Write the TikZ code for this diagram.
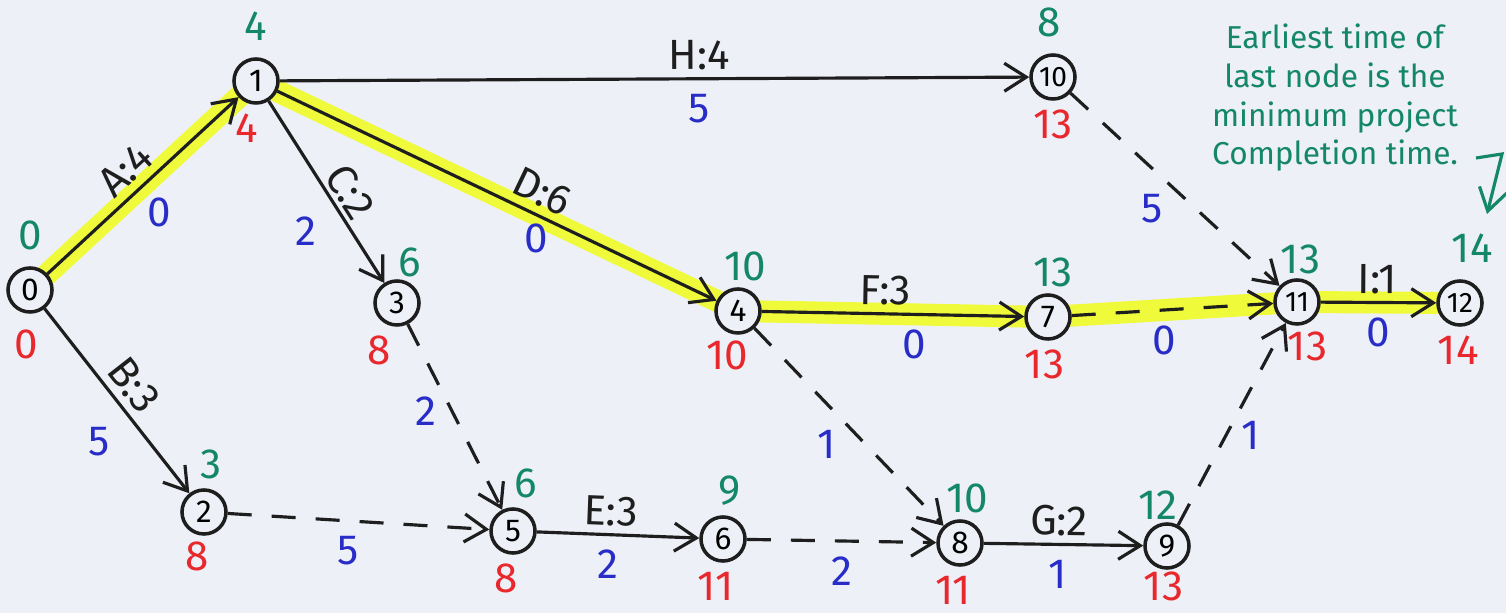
\documentclass[tikz,border=0pt]{standalone}
\usepackage{fontspec}
\setmainfont{Fira Sans}
\usetikzlibrary{arrows.meta,backgrounds}
\definecolor{paper}{RGB}{238,240,248}
\definecolor{ink}{RGB}{30,30,30}
\definecolor{marker}{RGB}{238,250,58}
\definecolor{earlygreen}{RGB}{20,135,105}
\definecolor{latered}{RGB}{232,40,45}
\definecolor{slackblue}{RGB}{40,45,200}
\tikzset{
    aoa diagram/.style = {x=0.01cm, y=-0.01cm,
                          >={Straight Barb[length=2.2mm, width=2.8mm]}},
    event/.style       = {draw=ink, line width=1pt, circle, fill=paper,
                          minimum size=4.4mm, inner sep=0pt,
                          font=\small},
    wide event/.style  = {event, font=\footnotesize},
    early/.style       = {text=earlygreen, font=\large, inner sep=2.5pt},
    late/.style        = {text=latered, font=\large, inner sep=2.5pt},
    activity/.style    = {draw=ink, line width=0.9pt, ->},
    dummy/.style       = {activity, dash pattern=on 2.4mm off 2mm},
    act/.style         = {text=ink, font=\large, sloped, inner sep=2pt},
    slack/.style       = {text=slackblue, font=\large, inner sep=2pt},
    critical/.style    = {draw=marker, line width=2.2mm,
                          line cap=round, line join=round},
    note/.style        = {text=earlygreen, font=\small, align=center},
    note arrow/.style  = {draw=earlygreen, line width=0.9pt, ->}
}
\begin{document}
\begin{tikzpicture}[aoa diagram]
\useasboundingbox (0,0) rectangle (1506,613);

% ================= Events (earliest above, latest below) =================
\node[event, label={[early, yshift=2pt]above:0},
             label={[late, xshift=-1pt, yshift=-2pt]below:0}]     (ev0)  at (30, 290)   {0};
\node[event, label={[early, yshift=2pt]above:4},
             label={[late, xshift=-2.5pt]below:4}]                (ev1)  at (256, 81)   {1};
\node[event, label={[early, xshift=2pt]above:3},
             label={[late, xshift=-2pt, yshift=1pt]below:8}]      (ev2)  at (204, 512)  {2};
\node[event, label={[early, xshift=3.5pt, yshift=-2pt]above:6},
             label={[late, xshift=-5pt]below:8}]                  (ev3)  at (397, 303)  {3};
\node[event, label={[early, xshift=2pt, yshift=-1pt]above:10},
             label={[late, xshift=-3pt, yshift=1pt]below:10}]     (ev4)  at (738, 311)  {4};
\node[event, label={[early, xshift=3.5pt]above:6},
             label={[late, xshift=-2pt]below:8}]                  (ev5)  at (513, 531)  {5};
\node[event, label={[early, xshift=2pt]above:9},
             label={[late, xshift=-2pt]below:11}]                 (ev6)  at (723, 539)  {6};
\node[event, label={[early, xshift=1.5pt, yshift=-1pt]above:13},
             label={[late, xshift=-1pt]below:13}]                 (ev7)  at (1048, 317) {7};
\node[event, label={[early, xshift=2pt, yshift=-1pt]above:10},
             label={[late, xshift=-2pt]below:11}]                 (ev8)  at (960, 543)  {8};
\node[event, label={[early, xshift=-2.5pt, yshift=-2pt]above:12},
             label={[late, xshift=-1pt, yshift=2pt]below:13}]     (ev9)  at (1167, 546) {9};
\node[wide event, label={[early, xshift=-1pt, yshift=2pt]above:8},
             label={[late]below:13}]                              (ev10) at (1053, 77)  {10};
\node[wide event, label={[early, xshift=1pt, yshift=-1.5pt]above:13},
             label={[late, xshift=3pt, yshift=1pt]below:13}]      (ev11) at (1297, 302) {11};
\node[wide event, label={[early, xshift=3.5pt, yshift=2pt]above:14},
             label={[late, xshift=-0.5pt]below:14}]               (ev12) at (1460, 303) {12};

% ================= Activities =================
\draw[activity] (ev0) -- node[act, above, pos=0.49] {A:4}
                        node[slack, below right, pos=0.48] {0} (ev1);
\draw[activity] (ev0) -- node[act, above, pos=0.49] {B:3}
                        node[slack, below left=2pt, pos=0.56] {5} (ev2);
\draw[activity] (ev1) -- node[act, above, pos=0.56, inner sep=1pt] {C:2}
                        node[slack, below left=2pt, pos=0.55] {2} (ev3);
\draw[activity] (ev1) -- node[act, above, pos=0.58] {D:6}
                        node[slack, below, pos=0.59] {0} (ev4);
\draw[activity] (ev1) -- node[act, above, pos=0.56] {H:4}
                        node[slack, below=2pt, pos=0.56] {5} (ev10);
\draw[activity] (ev4) -- node[act, above, pos=0.47] {F:3}
                        node[slack, below=2pt, pos=0.58] {0} (ev7);
\draw[activity] (ev5) -- node[act, above, pos=0.45] {E:3}
                        node[slack, below=2pt, pos=0.44] {2} (ev6);
\draw[activity] (ev8) -- node[act, above, pos=0.47] {G:2}
                        node[slack, below=2pt, pos=0.46] {1} (ev9);
\draw[activity] (ev11) -- node[act, above, pos=0.49] {I:1}
                         node[slack, below=2pt, pos=0.5] {0} (ev12);

% ================= Dummy activities =================
\draw[dummy] (ev3)  -- node[slack, left=2pt, pos=0.47] {2} (ev5);
\draw[dummy] (ev2)  -- node[slack, below=2pt, pos=0.46] {5} (ev5);
\draw[dummy] (ev6)  -- node[slack, below=2pt, pos=0.5] {2} (ev8);
\draw[dummy] (ev4)  -- node[slack, below left, pos=0.475] {1} (ev8);
\draw[dummy] (ev10) -- node[slack, below left, pos=0.48] {5} (ev11);
\draw[dummy] (ev7)  -- node[slack, below=2pt, pos=0.46] {0} (ev11);
\draw[dummy] (ev9)  -- node[slack, right=2pt, pos=0.445] {1} (ev11);

% ================= Note =================
\node[note] (remark) at (1335, 98)
    {Earliest time of\\ last node is the\\ minimum project\\ Completion time.};
\coordinate (hookstart) at (1476, 158);
\coordinate (hookbend)  at (1502, 154);
\coordinate (hookend)   at (1487, 214);
\draw[note arrow] (hookstart) -- (hookbend) -- (hookend);

% ================= Paper and critical path =================
\begin{scope}[on background layer]
\fill[paper] (0,0) rectangle (1506,613);
\draw[critical] (ev0.center) -- (ev1.center) -- (ev4.center)
                -- (ev7.center) -- (ev11.center) -- (ev12.center);
\end{scope}

\end{tikzpicture}
\end{document}
